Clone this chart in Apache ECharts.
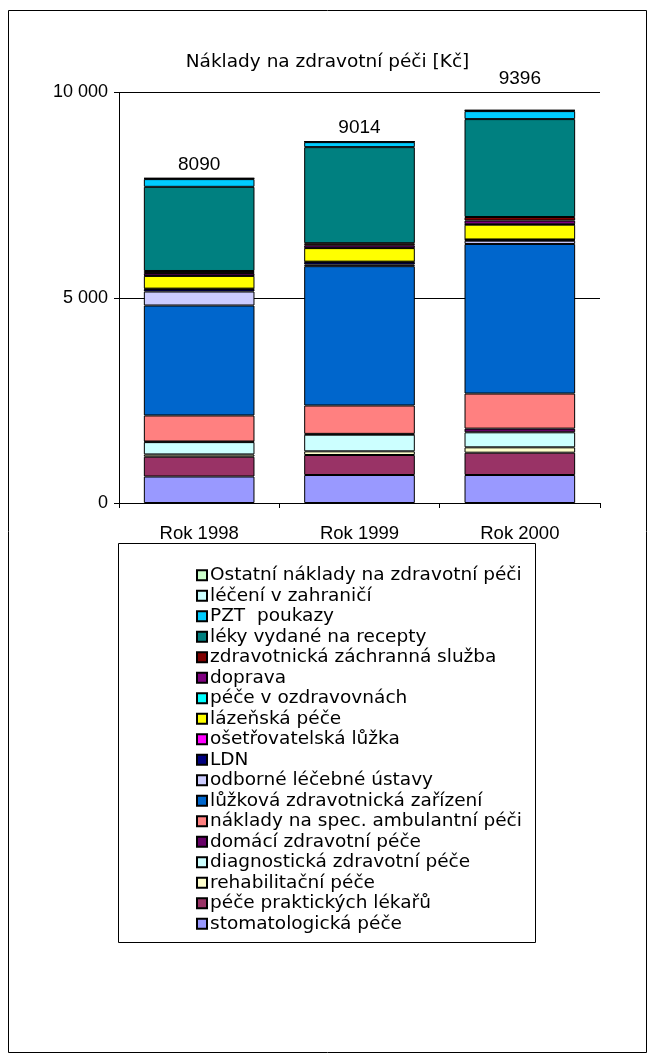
<!DOCTYPE html>
<html>
<head>
<meta charset="UTF-8">
<title>Náklady na zdravotní péči</title>
<script src="https://cdn.jsdelivr.net/npm/echarts@6/dist/echarts.min.js"></script>
<style>
  html, body { margin: 0; padding: 0; background: #fff; }
  #chart { width: 655px; height: 1062px; }
</style>
</head>
<body>
<div id="chart"></div>
<script>
// kategorie a popisky
var categories = ['Rok 1998', 'Rok 1999', 'Rok 2000'];
var totals = [8090, 9014, 9396];
var yTicks = [0, 5000, 10000];

// hodnoty jednotlivych polozek (odspodu nahoru)
var stomatologicka = [645, 682, 682];
var praktickych = [483, 487, 544];
var rehabilitacni = [55, 90, 130];
var diagnosticka = [300, 405, 366];
var domaci = [15, 20, 90];
var specAmbulantni = [634, 691, 854];
var luzkova = [2679, 3394, 3644];
var odborne = [341, 40, 80];
var ldn = [60, 60, 20];
var osetrovatelska = [10, 10, 10];
var lazenska = [310, 330, 360];
var ozdravovny = [10, 10, 10];
var doprava = [60, 60, 90];
var zachranna = [50, 50, 87];
var leky = [2050, 2340, 2385];
var pzt = [188, 122, 195];
var zahranici = [15, 10, 15];
var ostatni = [10, 6, 10];

var seriesNames = [
  'stomatologická péče', 'péče praktických lékařů', 'rehabilitační péče',
  'diagnostická zdravotní péče', 'domácí zdravotní péče', 'náklady na spec. ambulantní péči',
  'lůžková zdravotnická zařízení', 'odborné léčebné ústavy', 'LDN', 'ošetřovatelská lůžka',
  'lázeňská péče', 'péče v ozdravovnách', 'doprava', 'zdravotnická záchranná služba',
  'léky vydané na recepty', 'PZT  poukazy', 'léčení v zahraničí', 'Ostatní náklady na zdravotní péči'
];
var seriesValues = [
  stomatologicka, praktickych, rehabilitacni, diagnosticka, domaci, specAmbulantni,
  luzkova, odborne, ldn, osetrovatelska, lazenska, ozdravovny, doprava, zachranna,
  leky, pzt, zahranici, ostatni
];
var palette = [
  '#9999FF', '#993366', '#FFFFCC', '#CCFFFF', '#660066', '#FF8080',
  '#0066CC', '#CCCCFF', '#000080', '#FF00FF', '#FFFF00', '#00FFFF',
  '#800080', '#800000', '#008080', '#00CCFF', '#CCFFFF', '#CCFFCC'
];

var FONT = 'Liberation Sans, Arial, sans-serif';
var WIDE = 'DejaVu Sans, sans-serif';
var labelDistance = [4, 4, 22];

var series = seriesNames.map(function (name, i) {
  var isTop = i === seriesNames.length - 1;
  return {
    name: name,
    type: 'bar',
    stack: 'total',
    barCategoryGap: '31%',
    itemStyle: { color: palette[i], borderColor: '#000', borderWidth: 1 },
    emphasis: { disabled: true },
    data: seriesValues[i].map(function (v, j) {
      var d = { value: v };
      if (isTop) {
        d.label = {
          show: true,
          position: 'top',
          distance: labelDistance[j],
          formatter: String(totals[j]),
          color: '#000',
          fontSize: 19,
          fontFamily: FONT
        };
      }
      return d;
    })
  };
});

var chart = echarts.init(document.getElementById('chart'), null, { renderer: 'canvas' });
chart.setOption({
  animation: false,
  backgroundColor: '#fff',
  title: {
    text: 'Náklady na zdravotní péči [Kč]',
    left: 'center',
    top: 48,
    textStyle: { fontFamily: WIDE, fontSize: 18.5, fontWeight: 'normal', color: '#000' }
  },
  grid: { left: 119, right: 55, top: 92.5, bottom: 559 },
  xAxis: {
    type: 'category',
    data: categories,
    axisLine: { lineStyle: { color: '#000', width: 1 } },
    axisTick: { show: true, length: 5, lineStyle: { color: '#000' } },
    axisLabel: { color: '#000', fontSize: 18.5, fontFamily: FONT, margin: 21 }
  },
  yAxis: {
    type: 'value',
    min: yTicks[0],
    max: yTicks[yTicks.length - 1],
    interval: yTicks[1] - yTicks[0],
    axisLine: { show: true, lineStyle: { color: '#000', width: 1 } },
    axisTick: { show: true, length: 5, lineStyle: { color: '#000' } },
    splitLine: { show: true, lineStyle: { color: '#000', width: 1 } },
    axisLabel: {
      color: '#000', fontSize: 18, fontFamily: FONT, margin: 11,
      formatter: function (v) { return String(v).replace(/\B(?=(\d{3})+(?!\d))/g, ' '); }
    }
  },
  legend: {
    orient: 'vertical',
    left: 191,
    top: 560,
    itemWidth: 10,
    itemHeight: 10,
    itemGap: 0,
    icon: 'rect',
    selectedMode: false,
    data: seriesNames.slice().reverse(),
    textStyle: { fontFamily: WIDE, fontSize: 18.5, color: '#000', lineHeight: 20.5, padding: [0, 0, 0, -2] }
  },
  graphic: [
    {
      type: 'rect',
      shape: { x: 8.5, y: 10.5, width: 638, height: 1042 },
      style: { fill: null, stroke: '#000', lineWidth: 1 },
      silent: true
    },
    {
      type: 'rect',
      shape: { x: 118.5, y: 543.5, width: 417, height: 399 },
      style: { fill: null, stroke: '#000', lineWidth: 1 },
      silent: true
    }
  ],
  series: series
});
</script>
</body>
</html>
